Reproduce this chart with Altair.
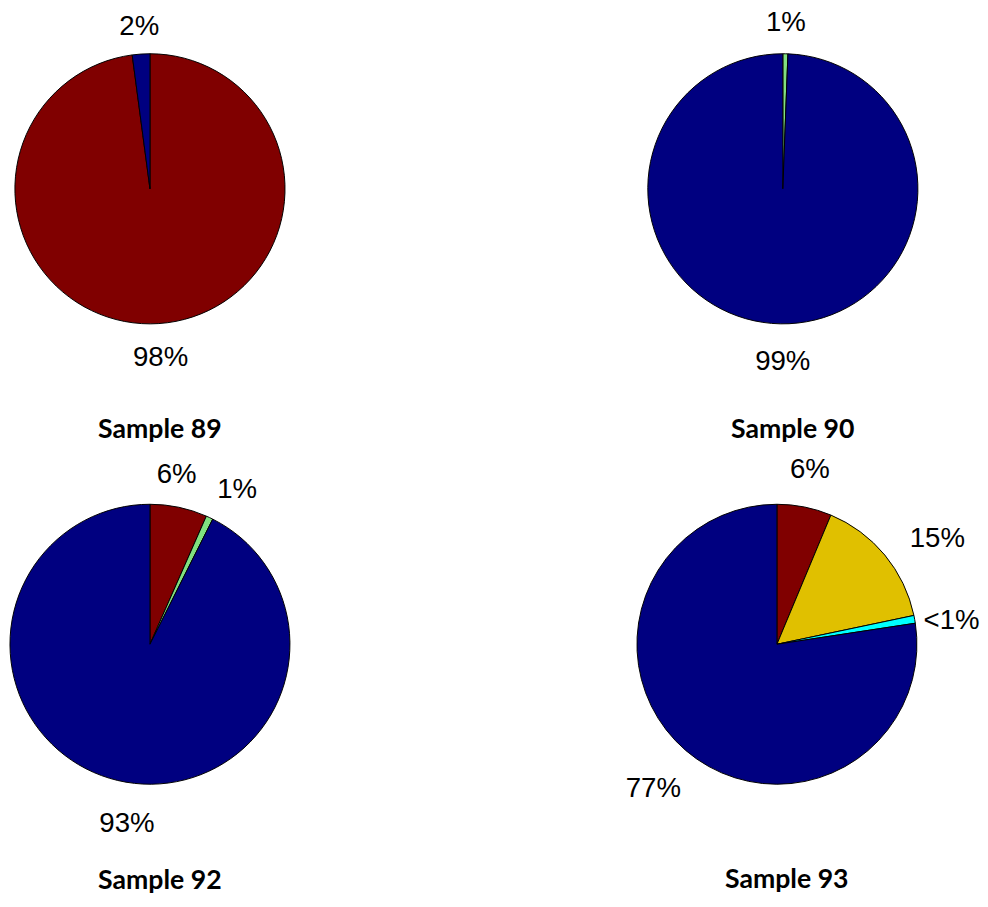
import altair as alt
import pandas as pd

# category -> colour (MATLAB jet-like)
categories = ["Class A", "Class B", "Class C", "Class D", "Class E"]
palette = ["#800000", "#E0C000", "#80E080", "#00FFFF", "#000080"]

# Sample 89
s89_cats = ["Class A", "Class E"]
s89_vals = [97.9, 2.1]
s89_labels = ["98%", "2%"]

# Sample 90
s90_cats = ["Class C", "Class E"]
s90_vals = [0.6, 99.4]
s90_labels = ["1%", "99%"]

# Sample 92
s92_cats = ["Class A", "Class C", "Class E"]
s92_vals = [6.6, 0.8, 92.6]
s92_labels = ["6%", "1%", "93%"]

# Sample 93
s93_cats = ["Class A", "Class B", "Class D", "Class E"]
s93_vals = [6.3, 15.4, 0.9, 77.4]
s93_labels = ["6%", "15%", "<1%", "77%"]

titles = ["Sample 89", "Sample 90", "Sample 92", "Sample 93"]

theta_scale = alt.Scale(domain=[0, 100])


def pie(cats, vals, labels, title, r, R, w, h, toff, nudges):
    df = pd.DataFrame({"cat": cats, "value": vals, "label": labels,
                       "idx": list(range(len(cats)))})
    base = alt.Chart(df).transform_window(
        cum="sum(value)", sort=[alt.SortField("idx")], frame=[None, 0]
    ).transform_calculate(
        start="datum.cum - datum.value",
        mid="datum.cum - datum.value / 2",
    )
    arc = base.mark_arc(outerRadius=r, stroke="black", strokeWidth=1).encode(
        theta=alt.Theta("start:Q", scale=theta_scale),
        theta2="cum:Q",
        color=alt.Color("cat:N", scale=alt.Scale(domain=categories, range=palette), legend=None),
    )
    layers = [arc]
    for i, (ndx, ndy) in enumerate(nudges):
        layers.append(
            base.transform_filter(alt.datum.idx == i).mark_text(
                radius=R, dx=ndx, dy=ndy, font="Liberation Sans", fontSize=28,
                color="black", baseline="middle", align="center",
            ).encode(
                theta=alt.Theta("mid:Q", scale=theta_scale),
                text="label:N",
            )
        )
    return alt.layer(*layers).properties(
        width=w, height=h,
        title=alt.TitleParams(title, orient="bottom", offset=toff, dx=10, font="Lato",
                              fontSize=27, fontWeight="bold", color="black",
                              anchor="middle"),
    )


p89 = pie(s89_cats, s89_vals, s89_labels, titles[0], 137, 164, 286, 360, 46,
          [(0, 8), (0, 0)])
p90 = pie(s90_cats, s90_vals, s90_labels, titles[1], 137, 164, 286, 360, 42,
          [(0, -4), (3, 12)])
p92 = pie(s92_cats, s92_vals, s92_labels, titles[2], 142, 175, 286, 390, 31,
          [(-9, 0), (14, 2), (17, 12)])
p93 = pie(s93_cats, s93_vals, s93_labels, titles[3], 142, 180, 286, 390, 31,
          [(-2, 0), (24, 8), (0, 9), (-8, 10)])

chart = alt.vconcat(
    alt.hconcat(p89, p90, spacing=356),
    alt.hconcat(p92, p93, spacing=338),
    spacing=9,
).properties(
    padding={"top": -5, "bottom": -2, "left": 0, "right": 0}
).configure_view(strokeWidth=0)

chart.save("out.html", embed_options={"renderer": "svg", "actions": False})
